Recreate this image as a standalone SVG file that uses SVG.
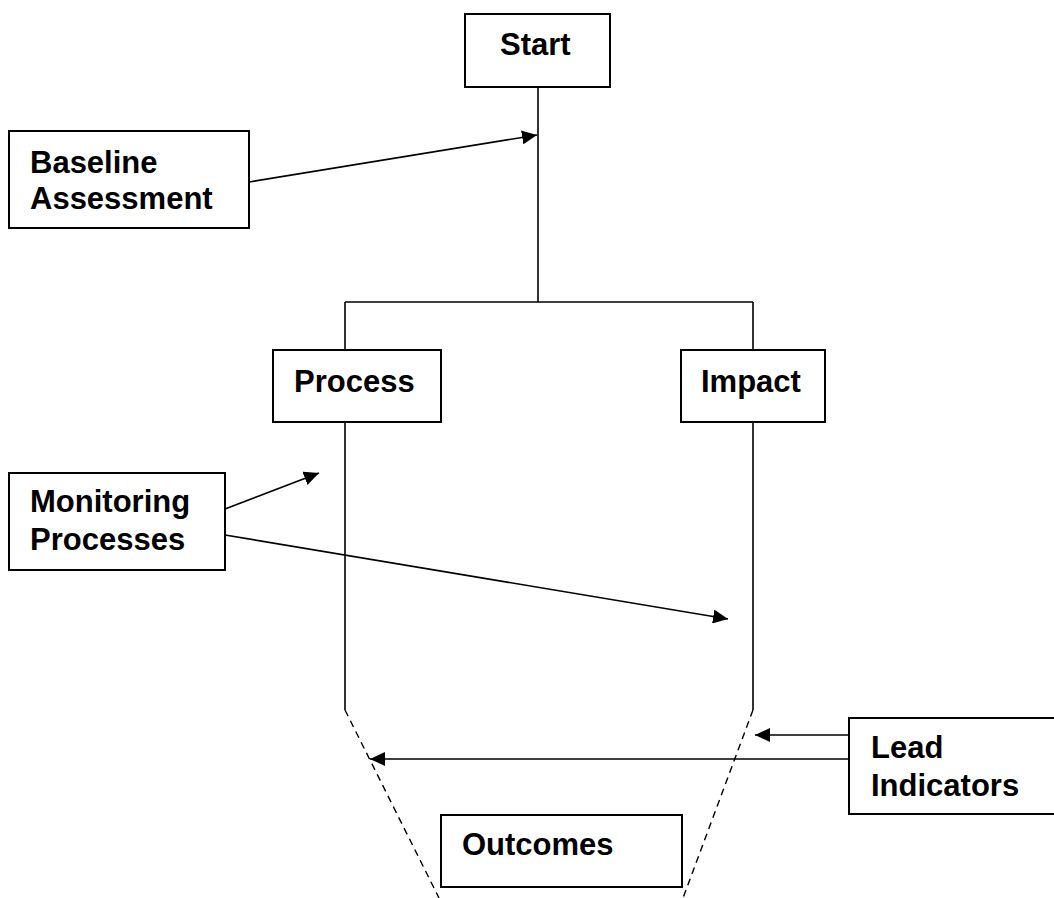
<svg xmlns="http://www.w3.org/2000/svg" width="1054" height="898" viewBox="0 0 1054 898">
<style>
.box{fill:#fff;stroke:#000;stroke-width:2}
.t{font-family:"Liberation Sans",Arial,sans-serif;font-weight:bold;font-size:31px;fill:#000}
.ln{fill:none;stroke:#000;stroke-width:1.6}
.ar{fill:none;stroke:#000;stroke-width:1.6;marker-end:url(#ah)}
.ds{fill:none;stroke:#000;stroke-width:1.4;stroke-dasharray:7,5}
</style>
<defs>
<marker id="ah" markerUnits="userSpaceOnUse" markerWidth="16" markerHeight="14" refX="15" refY="7" orient="auto">
<path d="M0,0 L15,7 L0,14 z" fill="#000"/>
</marker>
</defs>
<rect width="1054" height="898" fill="#fff"/>
<g id="connectors">
<path class="ln" d="M538,87 V302 M345,302 H753 M345,302 V350 M753,302 V350"/>
<path class="ln" d="M345,422 V710 M753,422 V710"/>
<path class="ds" d="M345,710 L439,898"/>
<path class="ds" d="M753,710 L683,898"/>
<path class="ar" d="M249,182 L537,135"/>
<path class="ar" d="M225,509 L319,473"/>
<path class="ar" d="M225,535 L728,619"/>
<path class="ar" d="M849,735 L755,735"/>
<path class="ar" d="M849,759 L370,759"/>
</g>
<g id="start"><rect class="box" x="465" y="14" width="145" height="73"/><text class="t" x="500" y="55">Start</text></g>
<g id="baseline"><rect class="box" x="9" y="131" width="240" height="97"/><text class="t" x="30" y="173">Baseline</text><text class="t" x="30" y="209">Assessment</text></g>
<g id="process"><rect class="box" x="273" y="350" width="168" height="72"/><text class="t" x="294" y="392">Process</text></g>
<g id="impact"><rect class="box" x="681" y="350" width="144" height="72"/><text class="t" x="701" y="392">Impact</text></g>
<g id="monitoring"><rect class="box" x="9" y="473" width="216" height="97"/><text class="t" x="30" y="512">Monitoring</text><text class="t" x="30" y="550">Processes</text></g>
<g id="lead"><rect class="box" x="849" y="718" width="215" height="96"/><text class="t" x="871" y="758">Lead</text><text class="t" x="871" y="796">Indicators</text></g>
<g id="outcomes"><rect class="box" x="441" y="815" width="241" height="72"/><text class="t" x="462" y="855">Outcomes</text></g>
</svg>
